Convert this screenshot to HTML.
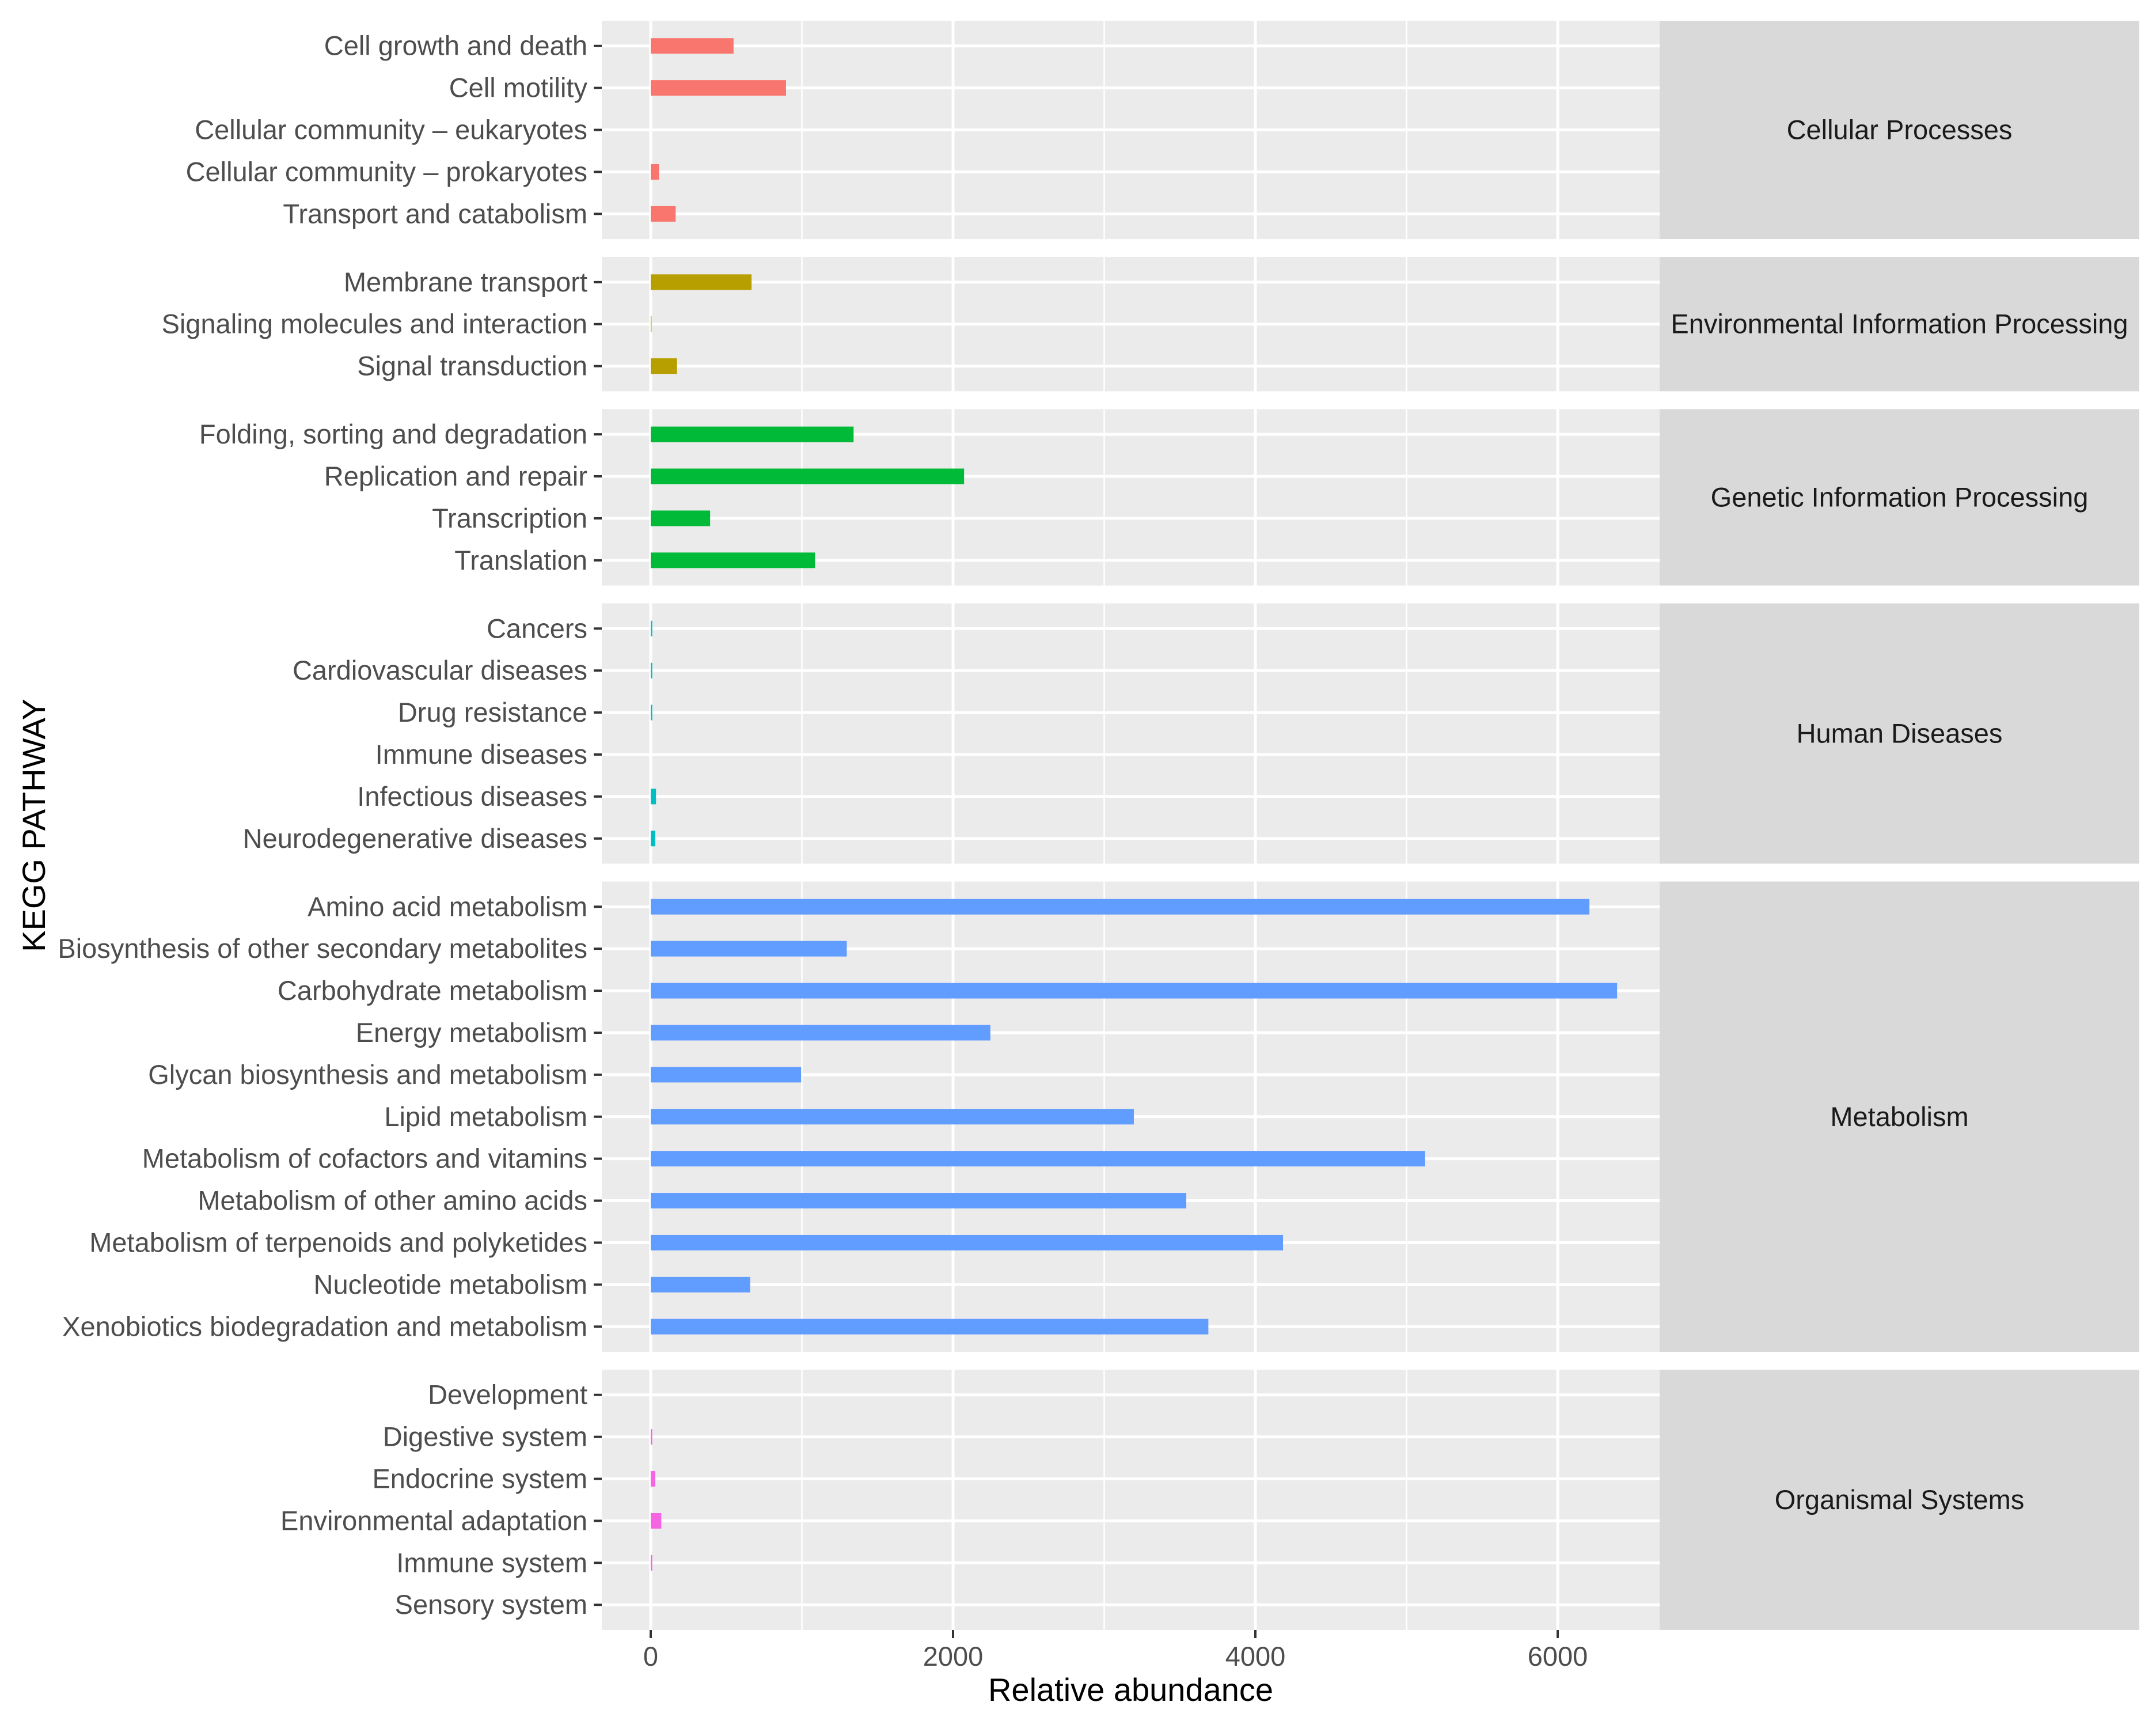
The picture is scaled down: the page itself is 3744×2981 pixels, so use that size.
<!DOCTYPE html>
<html><head><meta charset="utf-8"><style>
html,body{margin:0;padding:0;background:#fff}
svg{display:block;font-family:"Liberation Sans",Arial,sans-serif}
</style></head><body>
<svg id="chart" width="3744" height="2981" viewBox="0 0 3744 2981" xmlns="http://www.w3.org/2000/svg"></svg>
<script>
const groups = ["Cellular Processes","Environmental Information Processing","Genetic Information Processing","Human Diseases","Metabolism","Organismal Systems"];
const groupColors = ["#F8766D","#B79F00","#00BA38","#00BFC4","#619CFF","#F564E3"];
const cellularLabels = ["Cell growth and death","Cell motility","Cellular community \u2013 eukaryotes","Cellular community \u2013 prokaryotes","Transport and catabolism"];
const cellularValues = [548,895,0,55,165];
const envLabels = ["Membrane transport","Signaling molecules and interaction","Signal transduction"];
const envValues = [667,5,174];
const geneticLabels = ["Folding, sorting and degradation","Replication and repair","Transcription","Translation"];
const geneticValues = [1342,2073,393,1087];
const diseaseLabels = ["Cancers","Cardiovascular diseases","Drug resistance","Immune diseases","Infectious diseases","Neurodegenerative diseases"];
const diseaseValues = [10,10,10,0,35,30];
const metabLabels = ["Amino acid metabolism","Biosynthesis of other secondary metabolites","Carbohydrate metabolism","Energy metabolism","Glycan biosynthesis and metabolism","Lipid metabolism","Metabolism of cofactors and vitamins","Metabolism of other amino acids","Metabolism of terpenoids and polyketides","Nucleotide metabolism","Xenobiotics biodegradation and metabolism"];
const metabValues = [6210,1297,6393,2247,995,3196,5123,3543,4183,658,3689];
const organLabels = ["Development","Digestive system","Endocrine system","Environmental adaptation","Immune system","Sensory system"];
const organValues = [0,10,30,70,10,0];
const xTicks = [0,2000,4000,6000];
const xMinor = [1000,3000,5000];

const allLabels=[cellularLabels,envLabels,geneticLabels,diseaseLabels,metabLabels,organLabels];
const allValues=[cellularValues,envValues,geneticValues,diseaseValues,metabValues,organValues];

const NS="http://www.w3.org/2000/svg";
const svgEl=document.getElementById('chart');
function mk(tag,attrs){const e=document.createElementNS(NS,tag);for(const k in attrs)e.setAttribute(k,attrs[k]);svgEl.appendChild(e);return e;}

const panelL=1045, panelR=2882, stripR=3715;
const x0px=1130, pxPerUnit=525/2000;
const xs=v=>x0px+v*pxPerUnit;
const rowH=72.9, gapH=31, top0=36;
const fs=47;

let curTop=top0;
for(let g=0;g<groups.length;g++){
  const labels=allLabels[g], vals=allValues[g];
  const h=(labels.length-1+1.2)*rowH;
  const bg=mk('rect',{x:panelL,y:curTop,width:panelR-panelL,height:h,fill:'#EBEBEB'});
  
  
  xMinor.forEach(v=>{const l=mk('line',{x1:xs(v),x2:xs(v),y1:curTop,y2:curTop+h,stroke:'#fff','stroke-width':2.5});
    
    });
  xTicks.forEach(v=>{const l=mk('line',{x1:xs(v),x2:xs(v),y1:curTop,y2:curTop+h,stroke:'#fff','stroke-width':5});
    
    });
  labels.forEach((lab,i)=>{
    const y=curTop+0.6*rowH+i*rowH;
    const gl=mk('line',{x1:panelL,x2:panelR,y1:y,y2:y,stroke:'#fff','stroke-width':5});
    
    
    const v=vals[i];
    if(v>0){
      const b=mk('rect',{x:xs(0),y:y-13.5,width:Math.max(1.5,xs(v)-xs(0)),height:27,fill:groupColors[g]});
      
      
    }
    const tk=mk('line',{x1:panelL-14,x2:panelL,y1:y,y2:y,stroke:'#333','stroke-width':4});
    
    
    const t=mk('text',{x:panelL-25,y:y+16,'text-anchor':'end','font-size':fs,fill:'#4D4D4D'});
    t.textContent=lab;
    
    
  });
  const st=mk('rect',{x:panelR,y:curTop,width:stripR-panelR,height:h,fill:'#D9D9D9'});
  
  
  const stt=mk('text',{x:(panelR+stripR)/2,y:curTop+h/2+16,'text-anchor':'middle','font-size':fs,fill:'#1A1A1A'});
  stt.textContent=groups[g];
  
  
  curTop+=h+gapH;
}
const bottomY=curTop-gapH;
xTicks.forEach(v=>{
  const tk=mk('line',{x1:xs(v),x2:xs(v),y1:bottomY,y2:bottomY+14,stroke:'#333','stroke-width':4});
  
  
  const t=mk('text',{x:xs(v),y:bottomY+62,'text-anchor':'middle','font-size':fs,fill:'#4D4D4D'});
  t.textContent=v;
  
  
});
const xt=mk('text',{x:(panelL+panelR)/2,y:2953,'text-anchor':'middle','font-size':56,fill:'#000'});
xt.textContent='Relative abundance';


const yt=mk('text',{x:0,y:0,'text-anchor':'middle','font-size':56,fill:'#000',transform:'translate(78,'+((top0+bottomY)/2)+') rotate(-90)'});
yt.textContent='KEGG PATHWAY';


</script>
</body></html>
